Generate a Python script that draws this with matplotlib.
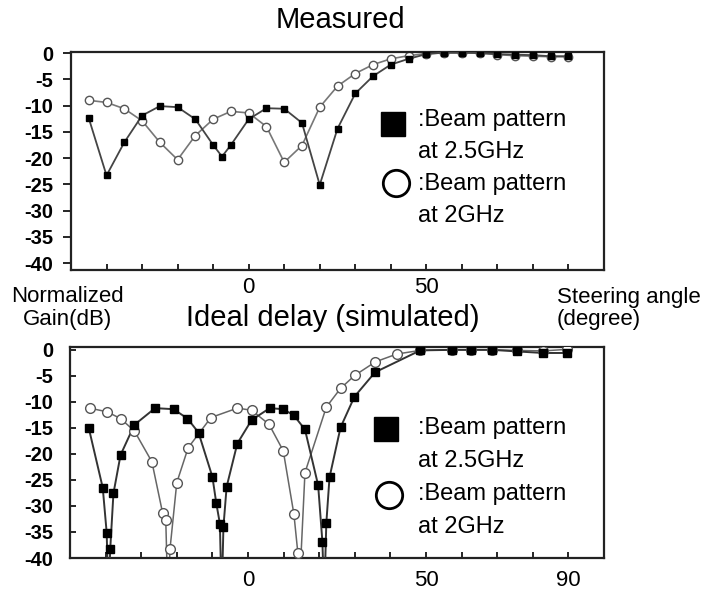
import numpy as np
import matplotlib
matplotlib.use("Agg")
import matplotlib.pyplot as plt
from matplotlib.lines import Line2D

plt.rcParams['font.family'] = ['Liberation Sans', 'DejaVu Sans']

# ---- measured (top) ----
meas_ang_25 = [-45, -40, -35, -30, -25, -20, -15, -10, -7.5, -5, 0, 5, 10, 15, 20, 25, 30,
               35, 40, 45, 50, 55, 60, 65, 70, 75, 80, 85, 90]
meas_gain_25 = [-12.4, -23.3, -17.0, -11.9, -10.1, -10.3, -12.6, -17.5, -19.7, -17.5, -12.6,
                -10.5, -10.6, -13.3, -25.1, -14.4, -7.7, -4.4, -2.2, -1.1, -0.2, 0.1, 0.1,
                0.0, -0.2, -0.3, -0.4, -0.6, -0.6]
meas_ang_2 = [-45, -40, -35, -30, -25, -20, -15, -10, -5, 0, 5, 10, 15, 20, 25, 30, 35, 40,
              45, 50, 55, 60, 65, 70, 75, 80, 85, 90]
meas_gain_2 = [-9.0, -9.4, -10.6, -12.9, -17.0, -20.3, -15.7, -12.6, -11.1, -11.4, -14.0,
               -20.8, -17.6, -10.3, -6.3, -3.9, -2.2, -1.1, -0.5, -0.1, 0.0, 0.0, 0.0,
               -0.3, -0.5, -0.6, -0.7, -0.7]

# ---- ideal delay, simulated (bottom) ----
sim_ang_25 = [-44.7, -40.8, -39.7, -38.7, -37.8, -35.8, -31.9, -26.1, -20.9, -17.0, -13.9,
              -10.0, -8.9, -7.9, -6.9, -6.0, -3.0, 1.0, 6.1, 9.9, 12.9, 16.0, 19.7, 20.9,
              22.0, 22.9, 26.0, 29.9, 35.7, 48.4, 57.2, 62.6, 68.6, 75.5, 82.9, 89.7]
sim_gain_25 = [-15.1, -26.5, -35.1, -38.3, -27.6, -20.2, -14.4, -11.2, -11.4, -13.2, -15.9,
               -24.4, -29.5, -33.4, -34.0, -26.3, -18.0, -13.5, -11.2, -11.4, -12.6, -15.3,
               -26.0, -36.9, -33.3, -24.5, -14.9, -9.0, -4.3, -0.1, 0.0, 0.0, 0.0, -0.3,
               -0.6, -0.6]
sim_ang_2 = [-44.5, -39.6, -35.8, -31.9, -27.0, -24.0, -23.1, -21.9, -20.0, -16.8, -10.4,
             -3.0, 1.0, 5.9, 9.9, 12.9, 14.0, 16.0, 22.0, 26.0, 30.0, 35.8, 41.8, 48.4,
             57.2, 62.6, 68.6, 75.5, 82.9, 89.7]
sim_gain_2 = [-11.2, -11.9, -13.2, -15.6, -21.5, -31.3, -32.7, -38.2, -25.5, -18.8, -13.0,
              -11.2, -11.6, -14.3, -19.4, -31.6, -39.0, -23.6, -11.0, -7.4, -4.9, -2.3,
              -0.8, -0.1, 0.0, 0.0, 0.0, -0.1, -0.2, 0.1]
# where the simulated curves dip below the -40 dB floor
null_ang_25 = [-39.2, -7.4, 21.4]
null_ang_2 = [-22.5, 14.3]
NULL_LEVEL = -48

y_ticks = [0, -5, -10, -15, -20, -25, -30, -35, -40]
x_ticks = [-40, -30, -20, -10, 0, 10, 20, 30, 40, 50, 60, 70, 80, 90]


def curve_with_nulls(ang, gain, nulls):
    a = list(ang) + list(nulls)
    g = list(gain) + [NULL_LEVEL] * len(nulls)
    order = np.argsort(a)
    return np.array(a)[order], np.array(g)[order]


def style_axes(ax, ylim, xlabels, ydir, ylen, ypad, xpad):
    ax.set_xlim(-50, 100)
    ax.set_ylim(*ylim)
    ax.set_yticks(y_ticks)
    ax.set_yticklabels([str(t) for t in y_ticks], fontweight='bold', fontsize=14.5)
    ax.set_xticks(x_ticks)
    ax.set_xticklabels([xlabels.get(t, "") for t in x_ticks], fontsize=16)
    ax.tick_params(axis='y', direction=ydir, length=ylen, width=1.2, pad=ypad)
    ax.tick_params(axis='x', direction='in', length=4, width=1.2, pad=xpad)
    for s in ax.spines.values():
        s.set_linewidth(1.6)
        s.set_color('#222222')


fig = plt.figure(figsize=(7.07, 5.99), dpi=100)

# top axes: pixels x 71..604, y 52..270
ax1 = fig.add_axes([71 / 707, 1 - 270 / 599, 533 / 707, 218 / 599])
ax1.plot(meas_ang_2, meas_gain_2, '-', color='#777777', lw=1.2, marker='o', ms=6,
         mfc='white', mec='#555555', mew=1.0, zorder=2)
ax1.plot(meas_ang_25, meas_gain_25, '-', color='#444444', lw=1.3, marker='s', ms=5,
         mfc='black', mec='black', zorder=3)
style_axes(ax1, (-41.3, 0.2), {0: "0", 50: "50"}, 'out', 6, 7, 5)

# bottom axes: pixels x 70..604, y 347..558
ax2 = fig.add_axes([70 / 707, 1 - 558 / 599, 534 / 707, 211 / 599])
a2, g2 = curve_with_nulls(sim_ang_2, sim_gain_2, null_ang_2)
a25, g25 = curve_with_nulls(sim_ang_25, sim_gain_25, null_ang_25)
ax2.plot(a2, g2, '-', color='#666666', lw=1.1, zorder=2)
ax2.plot(a25, g25, '-', color='#333333', lw=1.4, zorder=3)
ax2.plot(sim_ang_2, sim_gain_2, 'o', ms=7, mfc='white', mec='#555555', mew=1.0, zorder=4)
ax2.plot(sim_ang_25, sim_gain_25, 's', ms=6, mfc='black', mec='black', zorder=5)
style_axes(ax2, (-40, 0.55), {0: "0", 50: "50", 90: "90"}, 'in', 4, 12, 9)

# titles and axis captions
fig.text(340 / 707, 1 - 20 / 599, "Measured", ha='center', va='center', fontsize=21)
fig.text(333 / 707, 1 - 318 / 599, "Ideal delay (simulated)", ha='center', va='center',
         fontsize=21)
fig.text(67 / 707, 1 - 297 / 599, "Normalized", ha='center', va='center', fontsize=16)
fig.text(67 / 707, 1 - 320 / 599, "Gain(dB)", ha='center', va='center', fontsize=16)
fig.text(557 / 707, 1 - 297 / 599, "Steering angle", ha='left', va='center', fontsize=16)
fig.text(557 / 707, 1 - 320 / 599, "(degree)", ha='left', va='center', fontsize=16)


def legend_block(sq_xy, ci_xy, text_x, line_ys):
    fig.add_artist(Line2D([sq_xy[0] / 707], [1 - sq_xy[1] / 599], marker='s', ms=17,
                          mfc='black', mec='black', ls='none', transform=fig.transFigure))
    fig.add_artist(Line2D([ci_xy[0] / 707], [1 - ci_xy[1] / 599], marker='o', ms=19,
                          mfc='white', mec='black', mew=2, ls='none',
                          transform=fig.transFigure))
    texts = [":Beam pattern", "at 2.5GHz", ":Beam pattern", "at 2GHz"]
    for t, y in zip(texts, line_ys):
        fig.text(text_x / 707, 1 - y / 599, t, ha='left', va='center', fontsize=17)


legend_block((393, 124), (396, 183), 418, [120, 152, 184, 216])
legend_block((386, 429), (389, 495), 418, [428, 461, 494, 527])

fig.savefig("out.png", dpi=100)
